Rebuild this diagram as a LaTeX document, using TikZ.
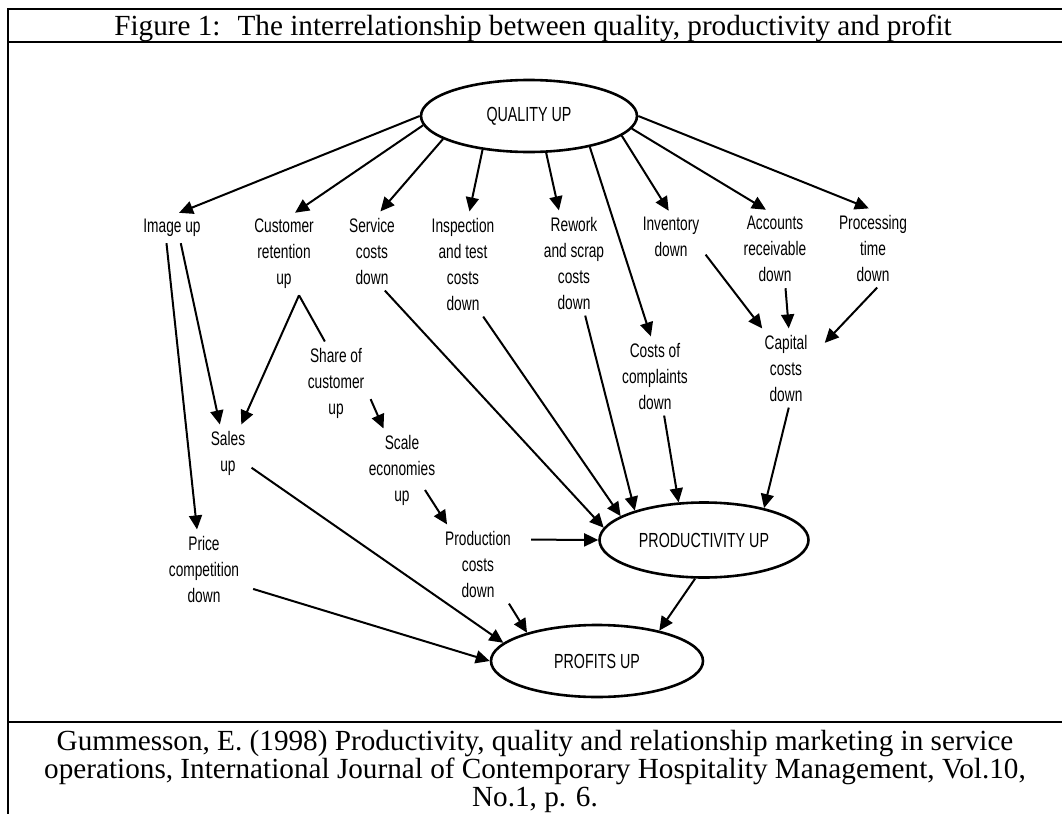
\documentclass[tikz,border=0pt]{standalone}
\usepackage{fontspec}
\setmainfont{Liberation Serif}
\newfontfamily\diagfont[FakeStretch=0.7]{Liberation Sans}
\usepackage{tikz}
\usetikzlibrary{shapes.geometric, arrows.meta}

\begin{document}
\begin{tikzpicture}[
  x=0.5pt, y=-0.5pt,
  lbl/.style={font=\diagfont\fontsize{9.8}{13}\selectfont, align=center,
    inner sep=3pt},
  oval/.style={ellipse, draw, line width=1.3pt, inner sep=2pt,
    font=\diagfont\fontsize{10.2}{13}\selectfont},
  arr/.style={-{Triangle[length=7pt,width=6.5pt]}, line width=1pt},
  frame/.style={line width=1.4pt},
]
  \useasboundingbox (0,0) rectangle (1062,814);

  % Table frame
  \draw[frame] (1062,9) -- (8,9) -- (8,814);
  \draw[frame] (8,42) -- (1062,42);
  \draw[frame] (8,722) -- (1062,722);

  \node[anchor=base, font=\fontsize{14.6}{16}\selectfont] (title) at (533,35)
    {Figure 1:~ The interrelationship between quality, productivity and profit};
  \node[anchor=base, align=center, font=\fontsize{14.6}{14}\selectfont] (source) at (535,806)
    {Gummesson, E. (1998) Productivity, quality and relationship marketing in service\\
     operations, International Journal of Contemporary Hospitality Management, Vol.10,\\
     No.1, p. 6.};

  % Ovals
  \node[oval, minimum width=108pt, minimum height=36pt] (quality) at (529,116) {QUALITY UP};
  \node[oval, minimum width=104.5pt, minimum height=37.5pt] (productivity) at (704,540) {PRODUCTIVITY UP};
  \node[oval, minimum width=106pt, minimum height=36pt] (profits) at (597,661) {PROFITS UP};

  % First row
  \node[lbl] (image) at (172,228) {Image up};
  \node[lbl] (retention) at (284,254) {Customer\\retention\\up};
  \node[lbl] (service) at (372,251) {Service\\costs\\down};
  \node[lbl] (inspection) at (463,264) {Inspection\\and test\\costs\\down};
  \node[lbl] (rework) at (574,263) {Rework\\and scrap\\costs\\down};
  \node[lbl] (inventory) at (671,237) {Inventory\\down};
  \node[lbl] (accounts) at (775,249) {Accounts\\receivable\\down};
  \node[lbl] (processing) at (873,248) {Processing\\time\\down};

  % Second level
  \node[lbl] (share) at (336,383) {Share of\\customer\\up};
  \node[lbl] (sales) at (228,453) {Sales\\up};
  \node[lbl] (economies) at (402,470) {Scale\\economies\\up};
  \node[lbl] (price) at (204,569) {Price\\competition\\down};
  \node[lbl] (production) at (478,564) {Production\\costs\\down};
  \node[lbl] (complaints) at (655,376) {Costs of\\complaints\\down};
  \node[lbl] (capital) at (786,368) {Capital\\costs\\down};

  % From quality
  \draw[arr] (quality.west) -- (image.65);
  \draw[arr] (quality.185) -- (retention.75);
  \draw[arr] (quality.195) -- (service.78);
  \draw[arr] (quality.216) -- (inspection.83);
  \draw[arr] (quality.295) -- (rework.106);
  \draw[arr] (quality.333) -- (complaints.96);
  \draw[arr] (quality.348) -- (inventory.95);
  \draw[arr] (quality.353) -- (accounts.103);
  \draw[arr] (quality.east) -- (processing.96);

  % Left branch
  \draw[arr] (image.250) -- (price.100);
  \draw[arr] (image.300) -- (sales.106);
  \draw[arr] (retention.290) -- (sales.65);
  \draw[line width=1pt] (retention.290) -- (share.105);
  \draw[arr] (share.335) -- (economies.114);
  \draw[arr] ([shift={(23,20)}]economies.center) -- (production.128);

  % Into productivity
  \draw[arr] (service.288) -- (productivity.173);
  \draw[arr] (inspection.291) -- (productivity.164);
  \draw[arr] (rework.282) -- (productivity.157);
  \draw[arr] (complaints.283) -- (productivity.124);
  \draw[arr] (capital.274) -- (productivity.28);
  \draw[arr, shorten <=7pt] (production.32) -- (productivity.west);

  % Capital costs
  \draw[arr] (inventory.333) -- (capital.121);
  \draw[arr] (accounts.285) -- (capital.86);
  \draw[arr, shorten >=8pt] (processing.276) -- (capital.26);

  % Into profits
  \draw[arr] (production.308) -- (profits.158);
  \draw[arr] (sales.328) -- (profits.169);
  \draw[arr, shorten <=4pt] (price.337) -- (profits.west);
  \draw[arr] (productivity.257) -- (profits.26);
\end{tikzpicture}
\end{document}
